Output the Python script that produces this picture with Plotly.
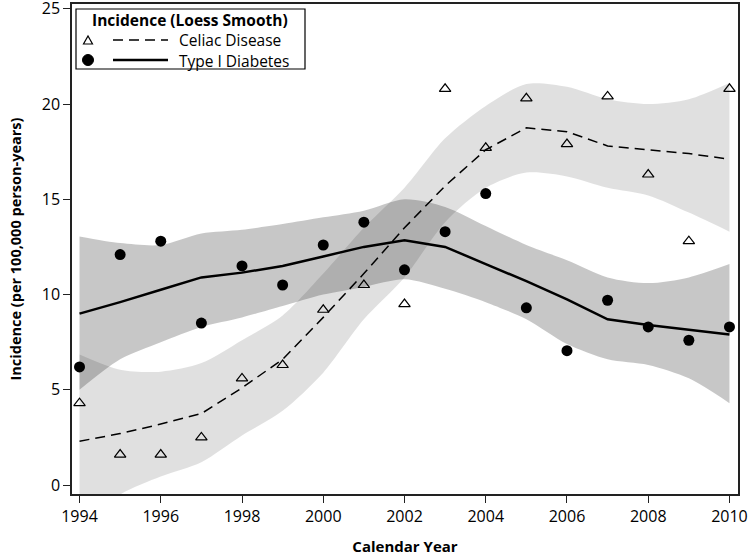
import plotly.graph_objects as go

years = list(range(1994, 2011))
celiac_obs = [4.3, 1.6, 1.6, 2.5, 5.6, 6.3, 9.2, 10.5, 9.5, 20.8, 17.7, 20.3, 17.9, 20.4, 16.3, 12.8, 20.8]
diabetes_obs = [6.2, 12.1, 12.8, 8.5, 11.5, 10.5, 12.6, 13.8, 11.3, 13.3, 15.3, 9.3, 7.05, 9.7, 8.3, 7.6, 8.3]

celiac_fit = [2.3, 2.7, 3.2, 3.75, 5.1, 6.6, 8.8, 11.1, 13.5, 15.7, 17.6, 18.75, 18.55, 17.8, 17.6, 17.4, 17.1]
celiac_upper = [6.85, 6.05, 5.95, 6.4, 7.6, 8.9, 11.1, 13.5, 15.6, 18.2, 19.9, 21.05, 20.9, 20.25, 20.0, 20.25, 21.1]
celiac_lower = [-2.3, -0.5, 0.45, 1.2, 2.6, 3.9, 5.9, 8.7, 10.9, 13.8, 15.6, 16.4, 16.2, 15.6, 15.2, 14.3, 13.3]

diabetes_fit = [9.0, 9.6, 10.25, 10.9, 11.15, 11.5, 12.0, 12.5, 12.85, 12.5, 11.6, 10.7, 9.75, 8.7, 8.4, 8.15, 7.9]
diabetes_upper = [13.05, 12.7, 12.6, 13.2, 13.4, 13.7, 14.05, 14.4, 15.0, 14.6, 13.6, 12.6, 11.8, 10.9, 10.6, 10.9, 11.6]
diabetes_lower = [5.0, 6.6, 7.5, 8.3, 8.8, 9.4, 10.0, 10.4, 10.8, 10.3, 9.6, 8.7, 7.4, 6.6, 6.3, 5.6, 4.3]

x_ticks = list(range(1994, 2011, 2))
y_ticks = [0, 5, 10, 15, 20, 25]

legend_title = "Incidence (Loess Smooth)"
series_names = ["Celiac Disease", "Type I Diabetes"]

FONT = "Open Sans"
W, H = 750, 557
ML, MR, MT, MB = 72, 12, 4, 63
PW, PH = W - ML - MR, H - MT - MB

fig = go.Figure()

# confidence bands
fig.add_trace(go.Scatter(x=years, y=celiac_upper, mode="lines", line=dict(width=0, shape="spline", smoothing=0.8),
                         showlegend=False, hoverinfo="skip"))
fig.add_trace(go.Scatter(x=years, y=celiac_lower, mode="lines", line=dict(width=0, shape="spline", smoothing=0.8),
                         fill="tonexty", fillcolor="rgba(0,0,0,0.12)", showlegend=False, hoverinfo="skip"))
fig.add_trace(go.Scatter(x=years, y=diabetes_upper, mode="lines", line=dict(width=0, shape="spline", smoothing=0.8),
                         showlegend=False, hoverinfo="skip"))
fig.add_trace(go.Scatter(x=years, y=diabetes_lower, mode="lines", line=dict(width=0, shape="spline", smoothing=0.8),
                         fill="tonexty", fillcolor="rgba(0,0,0,0.22)", showlegend=False, hoverinfo="skip"))

# fitted lines
fig.add_trace(go.Scatter(x=years, y=celiac_fit, mode="lines", line=dict(color="black", width=1.5, dash="10px,6px"),
                         name=series_names[0], showlegend=False))
fig.add_trace(go.Scatter(x=years, y=diabetes_fit, mode="lines", line=dict(color="black", width=2.5),
                         name=series_names[1], showlegend=False))

# observed points
fig.add_trace(go.Scatter(x=years, y=celiac_obs, mode="markers",
                         marker=dict(symbol="triangle-up-open", size=10, color="black", line=dict(width=1.2)),
                         name=series_names[0], showlegend=False, cliponaxis=False))
fig.add_trace(go.Scatter(x=years, y=diabetes_obs, mode="markers",
                         marker=dict(symbol="circle", size=11, color="black"),
                         name=series_names[1], showlegend=False, cliponaxis=False))


def px(xp):
    return (xp - ML) / PW


def py(yp):
    return (H - MB - yp) / PH


shapes = []
# legend box
shapes.append(dict(type="rect", xref="paper", yref="paper", x0=px(76), x1=px(305), y0=py(69), y1=py(9),
                   line=dict(color="black", width=1.2), fillcolor="white", layer="above"))
# legend lines
shapes.append(dict(type="line", xref="paper", yref="paper", x0=px(113), x1=px(168), y0=py(40), y1=py(40),
                   line=dict(color="black", width=1.5, dash="10px,6px"), layer="above"))
shapes.append(dict(type="line", xref="paper", yref="paper", x0=px(113), x1=px(168), y0=py(60), y1=py(60),
                   line=dict(color="black", width=2.5), layer="above"))
# legend symbols
shapes.append(dict(type="path", xref="paper", yref="paper",
                   path=f"M {px(83.5)} {py(44)} L {px(92.5)} {py(44)} L {px(88)} {py(36)} Z",
                   line=dict(color="black", width=1.2), fillcolor="white", layer="above"))
shapes.append(dict(type="circle", xref="paper", yref="paper", x0=px(82.5), x1=px(93.5), y0=py(65.5), y1=py(54.5),
                   line=dict(color="black", width=1), fillcolor="black", layer="above"))

annotations = [
    dict(text=f"<b>{legend_title}</b>", xref="paper", yref="paper", x=px(190), y=py(19.5), xanchor="center",
         yanchor="middle", showarrow=False, borderpad=0, font=dict(family=FONT, size=15.5, color="black")),
    dict(text=series_names[0], xref="paper", yref="paper", x=px(178), y=py(40), xanchor="left",
         yanchor="middle", showarrow=False, borderpad=0, font=dict(family=FONT, size=15.5, color="black")),
    dict(text=series_names[1], xref="paper", yref="paper", x=px(178), y=py(60.5), xanchor="left",
         yanchor="middle", showarrow=False, borderpad=0, font=dict(family=FONT, size=15.5, color="black")),
]

fig.update_layout(
    width=W, height=H,
    margin=dict(l=ML, r=MR, t=MT, b=MB, autoexpand=False),
    plot_bgcolor="white", paper_bgcolor="white",
    font=dict(family=FONT, size=16, color="black"),
    shapes=shapes, annotations=annotations,
    showlegend=False,
    xaxis=dict(range=[1993.815, 2010.21], tickvals=x_ticks, ticktext=[str(v) for v in x_ticks],
               automargin=False, ticklabeloverflow="allow",
               showgrid=False, zeroline=False, showline=True, linecolor="#222", linewidth=1.5, mirror=True,
               ticks="outside", ticklen=7, tickwidth=1.2, tickcolor="#222",
               tickfont=dict(family=FONT, size=16),
               title=dict(text="<b>Calendar Year</b>", font=dict(family=FONT, size=15), standoff=16)),
    yaxis=dict(range=[-0.47, 25.25], tickvals=y_ticks, ticktext=[str(v) for v in y_ticks],
               automargin=False, ticklabeloverflow="allow",
               showgrid=False, zeroline=False, showline=True, linecolor="#222", linewidth=1.5, mirror=True,
               ticks="outside", ticklen=7, tickwidth=1.2, tickcolor="#222",
               tickfont=dict(family=FONT, size=16),
               title=dict(text="<b>Incidence (per 100,000 person-years)</b>", font=dict(family=FONT, size=14.5),
                          standoff=17)),
)

fig.write_html("out.html", config={"displayModeBar": False},
               post_script="document.body.style.margin='0';document.body.style.overflow='hidden';")
